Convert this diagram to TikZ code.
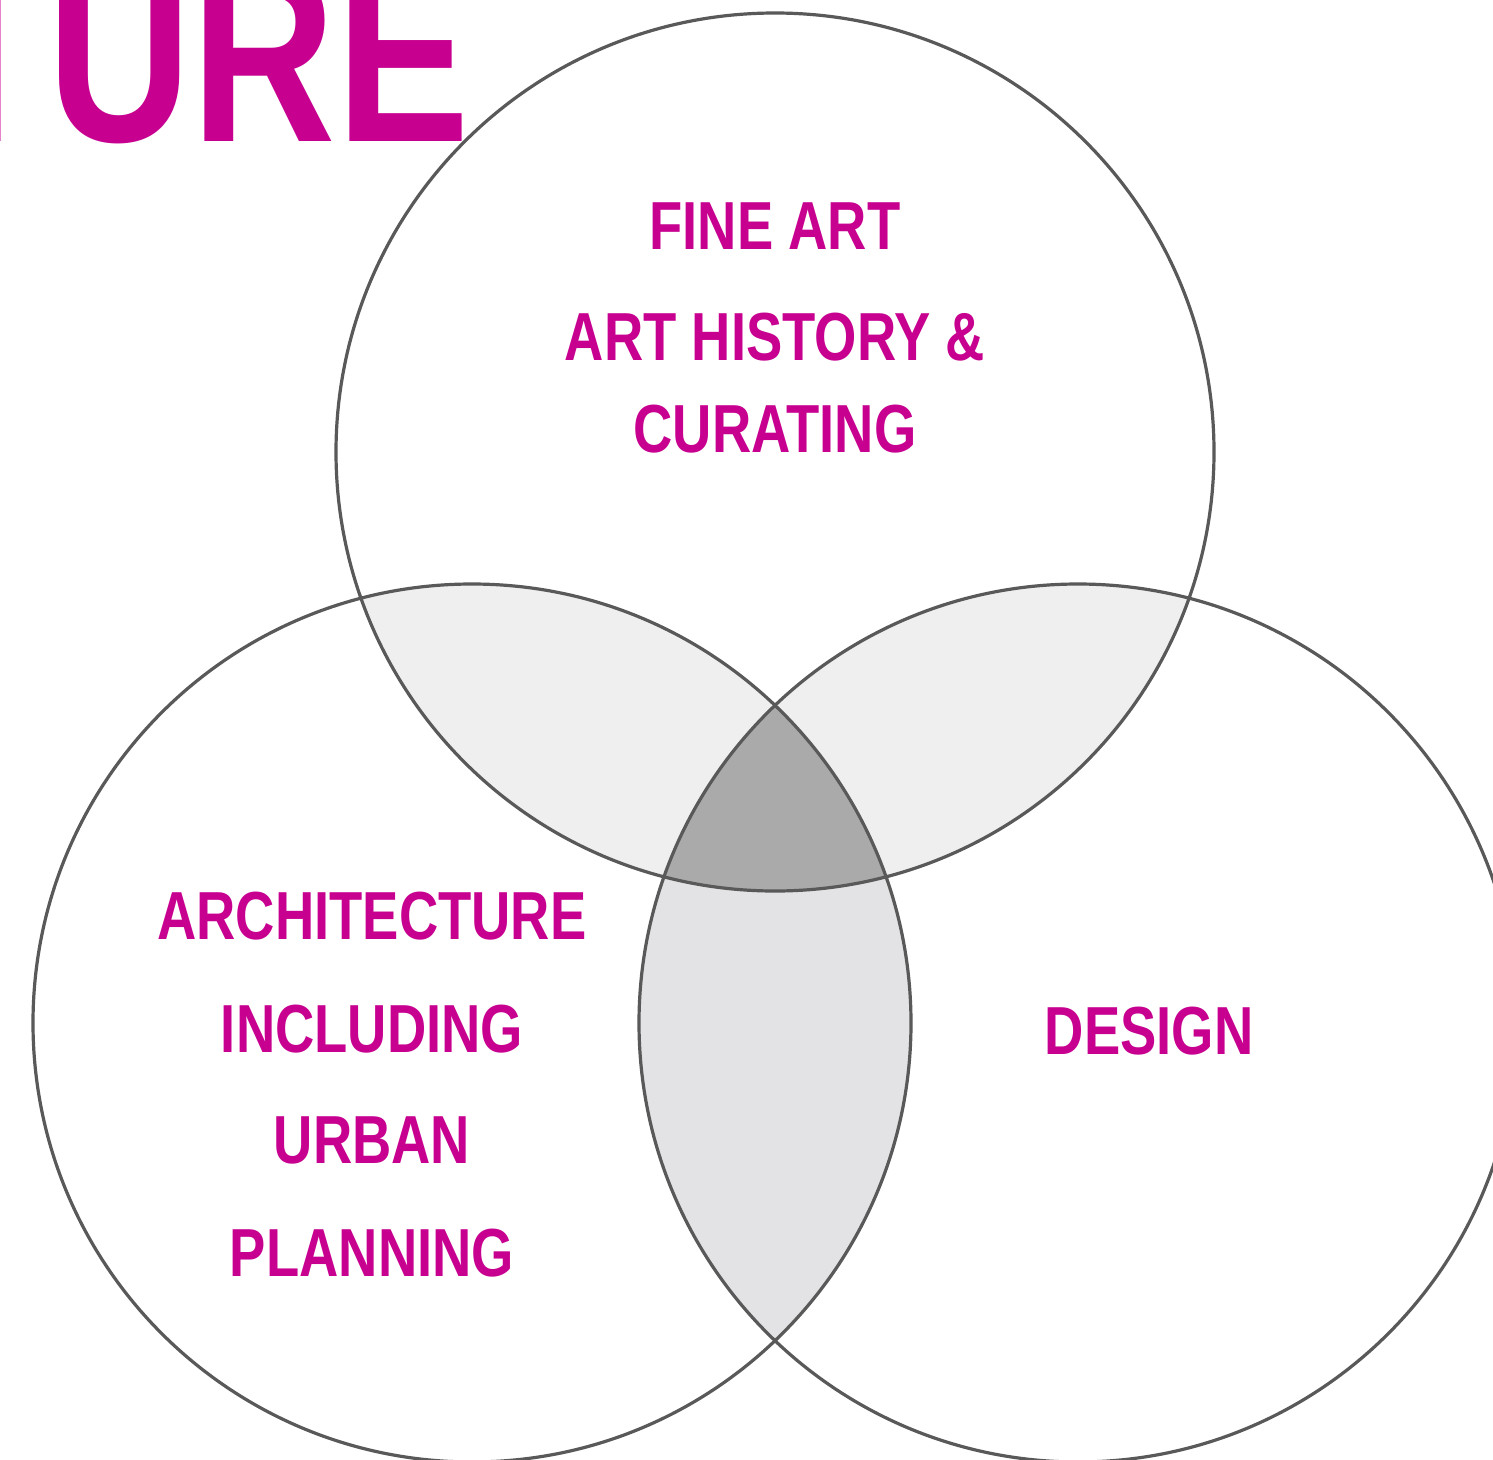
\documentclass[tikz,border=0pt]{standalone}
\usepackage{fontspec}
\setmainfont{Liberation Sans}[FakeStretch=0.80]
\definecolor{mag}{HTML}{C70090}
\definecolor{edge}{HTML}{595959}
\definecolor{pairA}{HTML}{EFEFEF}
\definecolor{pairB}{HTML}{E3E3E5}
\definecolor{triple}{HTML}{A9AAA9}
\tikzset{
  lbl/.style={text=mag, font=\bfseries\fontsize{68}{68}\selectfont, inner sep=0pt, anchor=base},
  ring/.style={draw=edge, line width=3.2pt},
}
\begin{document}
\begin{tikzpicture}[x=1pt, y=-1pt]
\useasboundingbox (0,0) rectangle (1493,1459);
\fill[white] (0,0) rectangle (1493,1459);
\clip (0,0) rectangle (1493,1459);
\def\R{439}
\coordinate (ct) at (775,452);
\coordinate (cl) at (472,1023);
\coordinate (cr) at (1078,1023);
% title (cut off at the page edge, as in the reference)
\node[text=mag, font=\bfseries\fontsize{250}{250}\selectfont, inner sep=0pt, anchor=base east] (title) at (470,141) {TURE};
% pairwise overlaps
\begin{scope}
  \clip (ct) circle (\R);
  \fill[pairA] (cl) circle (\R);
  \fill[pairA] (cr) circle (\R);
\end{scope}
\begin{scope}
  \clip (cl) circle (\R);
  \fill[pairB] (cr) circle (\R);
\end{scope}
\begin{scope}
  \clip (ct) circle (\R);
  \clip (cl) circle (\R);
  \fill[triple] (cr) circle (\R);
\end{scope}
% outlines
\draw[ring] (ct) circle (\R);
\draw[ring] (cl) circle (\R);
\draw[ring] (cr) circle (\R);
% labels
\node[lbl] (t1) at (775,249) {FINE ART};
\node[lbl] (t2) at (775,360) {ART HISTORY \&};
\node[lbl] (t3) at (775,452) {CURATING};
\node[lbl] (l1) at (372,939) {ARCHITECTURE};
\node[lbl] (l2) at (372,1052) {INCLUDING};
\node[lbl] (l3) at (372,1163) {URBAN};
\node[lbl] (l4) at (372,1276) {PLANNING};
\node[lbl] (r1) at (1149,1054) {DESIGN};
\end{tikzpicture}
\end{document}
